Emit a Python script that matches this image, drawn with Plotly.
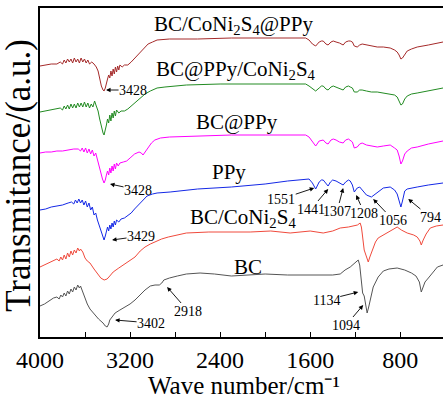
import plotly.graph_objects as go

FONT = "Liberation Serif, Times New Roman, serif"

# ---------------- data (wavenumber cm^-1, transmittance a.u. with offsets) ----------------
wn_bcnp = [4000, 3950, 3900, 3850, 3820, 3800, 3785, 3770, 3755, 3740, 3725, 3710, 3695, 3680, 3665, 3650,
           3635, 3620, 3605, 3590, 3575, 3560, 3540, 3520, 3500, 3484, 3470, 3455, 3440, 3431, 3420, 3410,
           3400, 3390, 3380, 3370, 3360, 3350, 3340, 3330, 3320, 3310, 3300, 3290, 3270, 3250, 3220, 3190,
           3150, 3110, 3070, 3040, 3000, 2960, 2850, 2600, 2300, 2000, 1800, 1640, 1610, 1580, 1551, 1520,
           1500, 1484, 1460, 1441, 1415, 1395, 1370, 1340, 1307, 1285, 1260, 1244, 1225, 1208, 1182, 1160,
           1138, 1100, 1056, 1004, 950, 889, 850, 827, 810, 794, 780, 760, 738, 700, 649, 550, 420]
t_bcnp = [271, 272, 273, 273, 275, 273, 277, 274, 278, 275, 278, 274, 279, 275, 278, 274,
          279, 275, 278, 274, 277, 273, 275, 273, 270, 266, 258, 251, 247, 246, 249, 255,
          258, 262, 259, 266, 261, 268, 263, 270, 265, 271, 267, 272, 270, 272, 272, 275,
          280, 285, 290, 293, 295, 297, 298, 298, 299, 299, 299, 299, 297, 293, 291, 295,
          296, 296, 293, 292, 295, 296, 295, 294, 292, 295, 296, 296, 295, 291, 290, 292,
          293, 292, 291, 290, 290, 289, 287, 285, 282, 278, 279, 283, 286, 288, 290, 292, 295]

wn_bpc = [4000, 3950, 3900, 3850, 3820, 3800, 3785, 3770, 3755, 3740, 3725, 3710, 3695, 3680, 3665, 3650,
          3635, 3620, 3605, 3590, 3575, 3560, 3545, 3530, 3515, 3500, 3484, 3470, 3455, 3440, 3431, 3420,
          3410, 3400, 3390, 3380, 3370, 3360, 3350, 3340, 3330, 3320, 3300, 3280, 3250, 3220, 3180, 3140,
          3100, 3067, 3020, 2960, 2890, 2700, 2400, 2000, 1640, 1610, 1580, 1551, 1520, 1500, 1484, 1460,
          1441, 1415, 1395, 1370, 1340, 1307, 1285, 1260, 1244, 1225, 1208, 1182, 1160, 1138, 1100, 1056,
          1004, 950, 889, 850, 827, 810, 794, 780, 760, 738, 700, 649, 550, 420]
t_bpc = [225, 226, 227, 228, 229, 227, 231, 228, 232, 228, 233, 229, 233, 229, 234, 230,
         234, 230, 235, 230, 234, 229, 233, 230, 236, 231, 226, 218, 210, 204, 202, 206,
         212, 218, 214, 222, 216, 224, 219, 226, 221, 227, 224, 226, 226, 228, 232, 236,
         240, 243, 246, 249, 250, 252, 253, 253, 253, 251, 248, 246, 249, 251, 251, 248,
         247, 250, 251, 250, 249, 247, 250, 251, 250, 249, 245, 245, 247, 247, 246, 245,
         245, 244, 243, 242, 240, 236, 232, 233, 238, 241, 243, 244, 246, 249]

wn_bp = [4000, 3950, 3900, 3850, 3800, 3750, 3700, 3660, 3640, 3625, 3610, 3595, 3580, 3565, 3550, 3535,
         3520, 3505, 3490, 3475, 3460, 3445, 3431, 3420, 3410, 3400, 3390, 3380, 3370, 3360, 3350, 3340,
         3330, 3320, 3305, 3290, 3260, 3230, 3200, 3160, 3120, 3100, 3085, 3067, 3040, 3010, 2980, 2930,
         2850, 2600, 2300, 2000, 1640, 1610, 1580, 1551, 1520, 1500, 1484, 1460, 1441, 1415, 1395, 1370,
         1340, 1307, 1285, 1260, 1244, 1225, 1208, 1182, 1160, 1138, 1100, 1056, 1004, 950, 889, 850,
         827, 810, 794, 780, 760, 738, 700, 649, 550, 420]
t_bp = [184, 185, 185, 186, 186, 187, 188, 188, 186, 189, 185, 189, 184, 188, 183, 187,
        181, 184, 177, 172, 165, 158, 154, 157, 162, 166, 162, 169, 164, 171, 166, 173,
        168, 174, 171, 174, 175, 176, 179, 183, 185, 184, 182, 185, 189, 194, 197, 199,
        200, 201, 202, 202, 202, 200, 195, 191, 196, 197, 197, 194, 193, 197, 198, 197,
        195, 194, 197, 198, 197, 195, 189, 190, 193, 194, 192, 191, 190, 191, 192, 189,
        187, 181, 173, 176, 183, 186, 189, 190, 193, 196]

wn_ppy = [4000, 3950, 3900, 3850, 3800, 3750, 3720, 3700, 3685, 3670, 3655, 3640, 3625, 3610, 3595, 3580,
          3565, 3550, 3535, 3520, 3505, 3490, 3475, 3460, 3445, 3431, 3420, 3410, 3400, 3390, 3380, 3370,
          3360, 3350, 3340, 3330, 3320, 3300, 3280, 3250, 3222, 3190, 3160, 3120, 3080, 3049, 3000, 2960,
          2844, 2600, 2300, 2000, 1800, 1650, 1610, 1580, 1551, 1520, 1500, 1484, 1460, 1441, 1420, 1400,
          1370, 1340, 1307, 1285, 1260, 1244, 1225, 1208, 1182, 1160, 1130, 1100, 1056, 1020, 990, 950,
          889, 850, 827, 810, 794, 780, 760, 738, 700, 649, 550, 420]
t_ppy = [127, 128, 130, 131, 132, 134, 135, 133, 137, 134, 138, 134, 137, 132, 136, 130,
         134, 127, 130, 122, 124, 117, 112, 106, 100, 97, 101, 106, 110, 106, 112, 108,
         114, 110, 116, 112, 117, 115, 118, 119, 121, 124, 128, 133, 138, 141, 143, 144,
         145, 148, 150, 153, 156, 158, 158, 154, 148, 155, 157, 157, 153, 151, 155, 157,
         156, 154, 152, 155, 157, 156, 152, 145, 149, 150, 146, 142, 140, 143, 146, 149,
         150, 147, 143, 137, 130, 136, 146, 148, 149, 150, 152, 154]

wn_bcn = [4000, 3960, 3920, 3880, 3850, 3830, 3815, 3800, 3785, 3770, 3755, 3740, 3725, 3710, 3695, 3680,
          3665, 3650, 3640, 3620, 3600, 3580, 3556, 3520, 3490, 3460, 3430, 3404, 3380, 3350, 3300, 3244,
          3200, 3156, 3110, 3067, 3020, 2978, 2920, 2860, 2780, 2700, 2500, 2300, 2133, 1950, 1778, 1600,
          1484, 1400, 1333, 1260, 1218, 1180, 1156, 1145, 1138, 1128, 1120, 1105, 1093, 1084, 1070, 1049,
          1020, 996, 950, 916, 870, 827, 790, 738, 680, 649, 625, 613, 596, 570, 533, 480, 420]
t_bcn = [70, 72, 74, 76, 78, 76, 80, 77, 82, 78, 84, 80, 86, 82, 87, 84,
         89, 86, 88, 85, 79, 76, 74, 68, 63, 59, 57, 58, 61, 65, 69, 73,
         76, 80, 86, 90, 93, 95, 98, 100, 102, 104, 105, 105, 105, 106, 104, 106,
         104, 106, 109, 110, 111, 112, 114, 110, 104, 95, 87, 82, 79, 75, 80, 87,
         95, 99, 102, 104, 107, 110, 107, 104, 102, 100, 96, 92, 97, 103, 109, 111, 112]

wn_bc = [4000, 3960, 3920, 3880, 3850, 3830, 3815, 3800, 3785, 3770, 3755, 3740, 3725, 3710, 3695, 3680,
         3665, 3650, 3640, 3620, 3600, 3580, 3556, 3520, 3480, 3440, 3420, 3404, 3390, 3380, 3360, 3333,
         3290, 3244, 3200, 3156, 3110, 3067, 3020, 2978, 2940, 2918, 2900, 2850, 2780, 2700, 2578, 2450,
         2300, 2150, 2000, 1800, 1650, 1500, 1400, 1333, 1290, 1244, 1200, 1173, 1160, 1150, 1140, 1134,
         1120, 1105, 1094, 1080, 1065, 1040, 996, 950, 900, 827, 760, 700, 660, 630, 613, 600, 580, 550,
         500, 470, 420]
t_bc = [31, 33, 36, 39, 40, 38, 42, 40, 44, 41, 46, 43, 48, 45, 50, 47,
        52, 49, 51, 45, 38, 33, 28, 23, 18, 14, 11, 10, 13, 17, 20, 24,
        27, 30, 33, 37, 42, 47, 51, 52, 52, 54, 57, 59, 61, 63, 64, 63,
        61, 62, 63, 62, 62, 62, 62, 63, 67, 70, 74, 77, 72, 62, 50, 44,
        41, 33, 24, 30, 37, 50, 60, 66, 68, 69, 67, 64, 61, 55, 45, 50, 55, 59,
        66, 70, 72]

series_names = ["BC/CoNi<sub>2</sub>S<sub>4</sub>@PPy", "BC@PPy/CoNi<sub>2</sub>S<sub>4</sub>", "BC@PPy",
                "PPy", "BC/CoNi<sub>2</sub>S<sub>4</sub>", "BC"]
series_x = [wn_bcnp, wn_bpc, wn_bp, wn_ppy, wn_bcn, wn_bc]
series_y = [t_bcnp, t_bpc, t_bp, t_ppy, t_bcn, t_bc]
series_colors = ["#A52A2A", "#228B22", "#FF00FF", "#1428E6", "#F04A3C", "#555555"]

# curve label positions (wavenumber, transmittance)
label_wn = [2285, 2258, 2250, 2321, 2196, 2152]
label_t = [312, 267, 215, 165, 119, 70]

# peak labels: text, tip wavenumber, tip transmittance, text offset (px)
peak_text = ["3428", "3428", "3429", "3402", "2918", "1551", "1441", "1307", "1208", "1056", "794", "1134", "1094"]
peak_wn = [3413, 3378, 3360, 3333, 2871, 1564, 1440, 1307, 1191, 1040, 729, 1173, 1129]
peak_t = [247, 153, 97, 17, 50, 149, 148, 149, 142, 138, 138, 45, 32]
peak_ax = [27, 28, 29, 36, 21, -33, -17, -6, 8, 20, 22, -32, -17]
peak_ay = [0, 6, -4, 3, 24, 11, 20, 23, 18, 21, 18, 8, 20]

x_ticks = [4000, 3200, 2400, 1600, 800]

fig = go.Figure()
for name, xs, ys, c in zip(series_names, series_x, series_y, series_colors):
    fig.add_trace(go.Scatter(x=xs, y=ys, mode="lines", name=name,
                             line=dict(color=c, width=1), showlegend=False))

for name, lx, ly in zip(series_names, label_wn, label_t):
    fig.add_annotation(x=lx, y=ly, text=name, showarrow=False,
                       font=dict(family=FONT, size=21, color="black"))

for txt, px, py, ax, ay in zip(peak_text, peak_wn, peak_t, peak_ax, peak_ay):
    fig.add_annotation(x=px, y=py, text=txt, showarrow=True, ax=ax, ay=ay,
                       arrowhead=2, arrowsize=1, arrowwidth=0.9, arrowcolor="black",
                       borderpad=0, font=dict(family=FONT, size=14, color="black"))

# axis titles as annotations for precise placement
fig.add_annotation(xref="paper", yref="paper", x=0.505, y=-0.1475, xanchor="center", yanchor="middle",
                   text="Wave number/cm⁻¹", showarrow=False, borderpad=0,
                   font=dict(family=FONT, size=25, color="black"))
fig.add_annotation(xref="paper", yref="paper", x=-0.052, y=0.49, xanchor="center", yanchor="middle",
                   text="Transmitance/(a.u.)", textangle=-90, showarrow=False,
                   font=dict(family=FONT, size=35, color="black"))

fig.update_layout(
    width=443, height=399,
    margin=dict(l=40, r=0, t=8, b=62),
    paper_bgcolor="white", plot_bgcolor="white",
    font=dict(family=FONT, color="black"),
)
fig.update_xaxes(
    range=[4000, 420], tickvals=x_ticks, ticktext=[str(v) for v in x_ticks],
    ticks="inside", ticklen=5, tickwidth=1, tickcolor="black",
    minor=dict(tickvals=[3600, 2800, 2000, 1200], ticks="inside", ticklen=5, tickwidth=1, tickcolor="black"),
    showline=True, linecolor="black", linewidth=1.5, mirror=True,
    showgrid=False, zeroline=False,
    tickfont=dict(family=FONT, size=24, color="black"),
)
fig.update_yaxes(
    range=[0, 329], showticklabels=False, ticks="",
    showline=True, linecolor="black", linewidth=1.5,
    showgrid=False, zeroline=False,
)

fig.write_html("out.html")
